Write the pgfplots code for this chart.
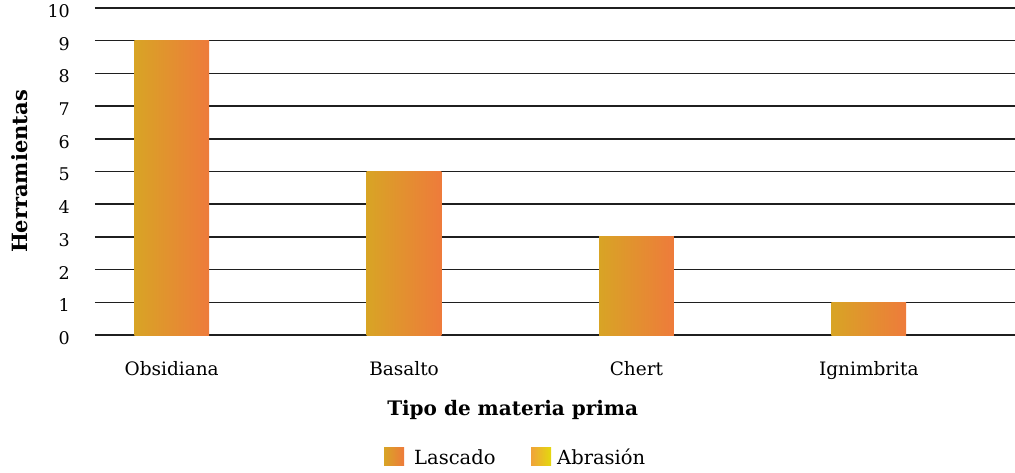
\documentclass[border=0pt]{standalone}
\usepackage{pgfplots}
\pgfplotsset{compat=1.18}
\usepackage{fontspec}
\setmainfont{DejaVu Serif}

\definecolor{lasL}{HTML}{D8A425}
\definecolor{lasR}{HTML}{EE7B3B}
\definecolor{abrL}{HTML}{F0A33A}
\definecolor{abrR}{HTML}{E4D80E}
\definecolor{gridc}{HTML}{1F1F1F}

\begin{document}
\begin{tikzpicture}
% page frame: 1015 x 472, origin at the lower left corner of the plot area
\path[use as bounding box] (-95pt,-137pt) rectangle (920pt,335pt);
\begin{axis}[
  at={(0pt,0pt)}, anchor=south west,
  scale only axis,
  width=920pt, height=327pt,
  xmin=-0.330, xmax=3.629,
  ymin=0, ymax=10,
  ytick={0,1,...,10},
  xtick={0,1,2,3},
  xticklabels={Obsidiana,Basalto,Chert,Ignimbrita},
  /pgf/number format/assume math mode=true,
  axis line style={draw=none},
  major tick length=0pt,
  ymajorgrids,
  grid style={gridc, line width=1.5pt},
  tick label style={font=\fontsize{17.5}{20}\selectfont, text=black},
  yticklabel style={anchor=east, inner sep=0pt, xshift=-25pt, yshift=-3pt},
  xticklabel style={anchor=base, inner sep=0pt, yshift=-40pt, font=\fontsize{18.5}{22}\selectfont},
  ylabel={\textbf{Herramientas}},
  ylabel style={at={(axis description cs:-0.0815,0.5)}, anchor=center, font=\fontsize{21}{24}\selectfont},
  xlabel={\textbf{Tipo de materia prima}},
  xlabel style={at={(axis description cs:0.454,-0.229)}, anchor=center, font=\fontsize{20}{24}\selectfont},
  clip=false,
  lascado/.style={ybar, bar width=74.7pt, bar shift=0pt, draw=none, left color=lasL, right color=lasR},
]
% Lascado: one path per bar so each bar carries its own gradient
\addplot[lascado] coordinates {(0,9)};
\addplot[lascado] coordinates {(1,5)};
\addplot[lascado] coordinates {(2,3)};
\addplot[lascado] coordinates {(3,1)};
\end{axis}

% legend
\fill[left color=lasL, right color=lasR] (289pt,-130pt) rectangle (309pt,-112pt);
\node[anchor=west, inner sep=0pt, font=\fontsize{19.5}{22}\selectfont] at (319pt,-122pt) {Lascado};
\fill[left color=abrL, right color=abrR] (436pt,-130pt) rectangle (456pt,-112pt);
\node[anchor=west, inner sep=0pt, font=\fontsize{19.5}{22}\selectfont] at (462pt,-122pt) {Abrasión};
\end{tikzpicture}
\end{document}
